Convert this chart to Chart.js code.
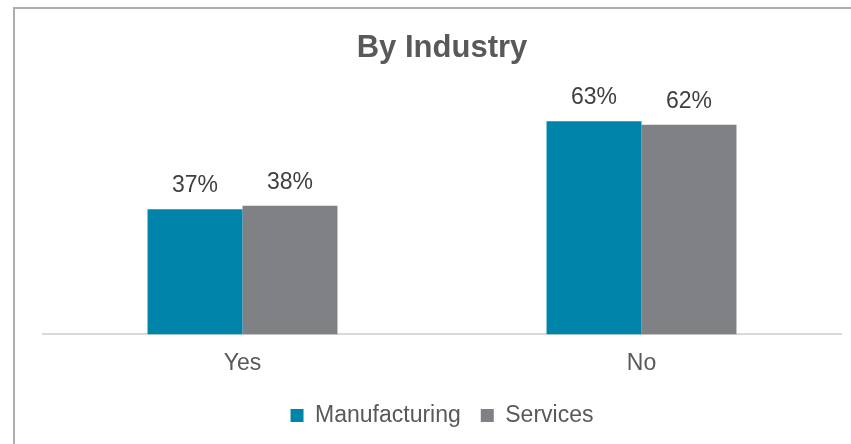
<!DOCTYPE html>
<html>
<head>
<meta charset="utf-8">
<script src="https://cdn.jsdelivr.net/npm/chart.js@4.4.1/dist/chart.umd.min.js"></script>
<style>
  html, body { margin: 0; padding: 0; background: #fff; overflow: hidden; }
  #wrap { position: relative; width: 851px; height: 444px; }
  #frame {
    position: absolute; left: 13px; top: 7px; width: 900px; height: 500px;
    border-left: 2px solid #b0adad; border-top: 2px solid #b0adad;
  }
  canvas { position: absolute; left: 0; top: 0; }
</style>
</head>
<body>
<div id="wrap">
  <div id="frame"></div>
  <canvas id="industryChart" width="851" height="444"></canvas>
</div>
<script>
// Survey answers split by industry
const categories = ["Yes", "No"];
const seriesNames = ["Manufacturing", "Services"];
const manufacturing = [37, 63];
const services = [38, 62];

const FONT = "'Liberation Sans', Arial, sans-serif";

// Percent labels above each bar
const barLabels = {
    id: "barLabels",
    afterDatasetsDraw(chart) {
        const ctx = chart.ctx;
        ctx.save();
        ctx.font = "23px " + FONT;
        ctx.fillStyle = "#404040";
        ctx.textAlign = "center";
        ctx.textBaseline = "alphabetic";
        chart.data.datasets.forEach((ds, i) => {
            chart.getDatasetMeta(i).data.forEach((bar, j) => {
                ctx.fillText(ds.data[j] + "%", bar.x, bar.y - 17);
            });
        });
        ctx.restore();
    }
};

new Chart(document.getElementById("industryChart"), {
    type: "bar",
    data: {
        labels: categories,
        datasets: [{
            label: seriesNames[0],
            data: manufacturing,
            backgroundColor: "#0084a9",
            borderWidth: 0
        }, {
            label: seriesNames[1],
            data: services,
            backgroundColor: "#808184",
            borderWidth: 0
        }]
    },
    options: {
        responsive: false,
        animation: false,
        datasets: {
            bar: {
                categoryPercentage: 0.476,
                barPercentage: 1.0
            }
        },
        layout: {
            padding: { left: 43, right: 10, top: 0, bottom: 7 }
        },
        plugins: {
            title: {
                display: true,
                text: "By Industry",
                color: "#595959",
                font: { family: FONT, size: 31, weight: "bold", lineHeight: 1.2 },
                padding: { top: 30, bottom: 0 }
            },
            legend: {
                position: "bottom",
                labels: {
                    color: "#595959",
                    font: { family: FONT, size: 23 },
                    boxWidth: 13,
                    boxHeight: 13,
                    padding: 20
                }
            },
            tooltip: { enabled: false }
        },
        scales: {
            x: {
                grid: { display: false, drawTicks: false },
                border: { display: true, color: "#d9d9d9", width: 2 },
                ticks: {
                    color: "#595959",
                    font: { family: FONT, size: 23 },
                    padding: 15
                },
                // tuck the legend up under the category labels
                afterFit(axis) {
                    axis.height -= 8;
                }
            },
            y: {
                display: false,
                min: 0,
                max: 79
            }
        }
    },
    plugins: [barLabels]
});
</script>
</body>
</html>
